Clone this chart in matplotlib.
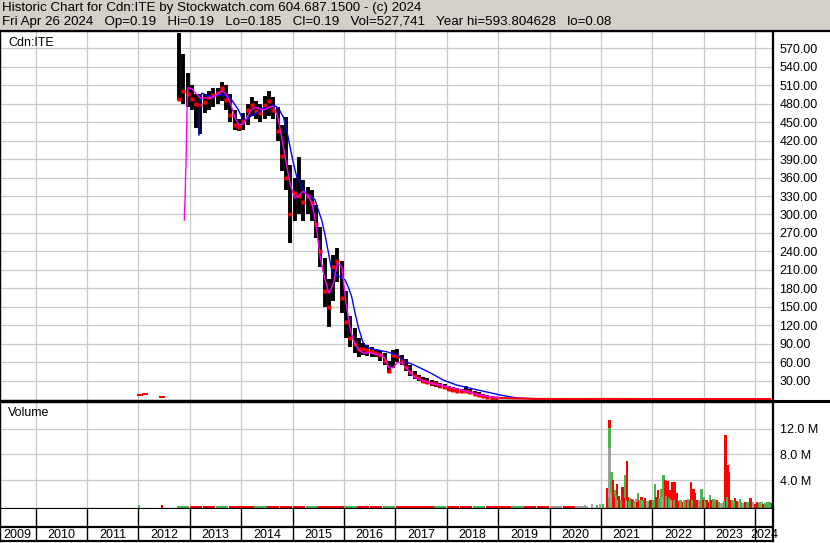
import matplotlib.pyplot as plt
import matplotlib.lines as mlines
import matplotlib.patches as mpatches

plt.rcParams['font.family'] = ['Liberation Sans', 'DejaVu Sans']

title_line = "Historic Chart for Cdn:ITE by Stockwatch.com 604.687.1500 - (c) 2024"
quote_line = ("Fri Apr 26 2024   Op=0.19   Hi=0.19   Lo=0.185   Cl=0.19   "
              "Vol=527,741   Year hi=593.804628   lo=0.08")
symbol = "Cdn:ITE"

# monthly price bars (high / low / close)
months = ["2012-10", "2012-11", "2012-12",
          "2013-01", "2013-02", "2013-03", "2013-04", "2013-05", "2013-06",
          "2013-07", "2013-08", "2013-09", "2013-10", "2013-11", "2013-12",
          "2014-01", "2014-02", "2014-03", "2014-04", "2014-05", "2014-06",
          "2014-07", "2014-08", "2014-09", "2014-10", "2014-11", "2014-12",
          "2015-01", "2015-02", "2015-03", "2015-04", "2015-05", "2015-06",
          "2015-07", "2015-08", "2015-09", "2015-10", "2015-11", "2015-12",
          "2016-01", "2016-02", "2016-03", "2016-04", "2016-05", "2016-06",
          "2016-07", "2016-08", "2016-09", "2016-10", "2016-11", "2016-12",
          "2017-01", "2017-02", "2017-03", "2017-04", "2017-05", "2017-06",
          "2017-07", "2017-08", "2017-09", "2017-10", "2017-11", "2017-12",
          "2018-01", "2018-02", "2018-03", "2018-04", "2018-05", "2018-06",
          "2018-07", "2018-08", "2018-09", "2018-10", "2018-11", "2018-12"]
highs = [595, 560, 530,
         510, 495, 495, 495, 500, 505, 505, 515, 510, 495, 470, 455,
         465, 480, 490, 485, 480, 492, 500, 490, 475, 445, 458, 380,
         360, 393, 356, 345, 340, 315, 280, 230, 195, 235, 246, 225,
         175, 135, 115, 100, 92, 88, 85, 82, 80, 75, 62, 80,
         82, 72, 65, 55, 46, 40, 36, 34, 31, 29, 27, 25,
         22, 20, 18, 16, 22, 16, 13, 11, 9, 7, 5, 4]
lows = [486, 480, 475,
        470, 440, 430, 465, 470, 475, 480, 485, 470, 450, 438, 436,
        438, 445, 460, 455, 450, 455, 460, 455, 420, 370, 340, 254,
        290, 300, 290, 300, 290, 262, 215, 150, 117, 160, 190, 140,
        100, 85, 75, 68, 72, 70, 68, 68, 62, 55, 42, 50,
        60, 55, 45, 38, 33, 30, 27, 24, 22, 20, 18, 16,
        14, 12, 11, 10, 11, 9, 7, 5, 3, 2, 1.5, 1]
closes = [488, 500, 495,
          488, 480, 478, 482, 490, 494, 498, 505, 486, 462, 445, 442,
          452, 470, 478, 468, 465, 478, 485, 470, 435, 395, 360, 300,
          335, 330, 320, 330, 318, 285, 240, 175, 150, 215, 225, 165,
          125, 100, 90, 82, 82, 80, 78, 75, 72, 62, 45, 72,
          70, 62, 52, 44, 38, 34, 30, 28, 26, 24, 22, 20,
          17, 15, 14, 13, 14, 11, 9, 7, 5, 3.5, 2.5, 2]

tail_months = ["2019-01", "2019-04", "2019-07", "2019-10", "2020-01", "2020-07",
               "2021-01", "2021-07", "2022-01", "2022-07", "2023-01", "2023-07",
               "2024-01", "2024-04"]
tail_closes = [1.8, 1.2, 0.8, 0.6, 0.45, 0.35, 0.5, 0.4, 0.3, 0.25, 0.22, 0.2,
               0.19, 0.19]

early_months = ["2012-01", "2012-02", "2012-06"]
early_prices = [7, 8, 3]

# short moving average (magenta), decimal years
ma_short_t = [2012.895, 2012.914, 2012.934, 2012.947, 2012.967,
              2013.042, 2013.125, 2013.208, 2013.292, 2013.375, 2013.458,
              2013.542, 2013.625, 2013.708, 2013.792, 2013.875, 2013.958,
              2014.042, 2014.125, 2014.208, 2014.292, 2014.375, 2014.458,
              2014.542, 2014.625, 2014.708, 2014.792, 2014.875, 2014.958,
              2015.042, 2015.125, 2015.208, 2015.292, 2015.375, 2015.458,
              2015.542, 2015.625, 2015.708, 2015.792, 2015.875, 2015.958,
              2016.042, 2016.125, 2016.208, 2016.292, 2016.375, 2016.458,
              2016.542, 2016.625, 2016.708, 2016.792, 2016.875, 2016.958,
              2017.042, 2017.125, 2017.208, 2017.292, 2017.375, 2017.458,
              2017.542, 2017.625, 2017.708, 2017.792, 2017.875, 2017.958,
              2018.042, 2018.125, 2018.208, 2018.292, 2018.375, 2018.458,
              2018.542, 2018.625, 2018.708, 2018.792, 2018.875, 2018.958,
              2019.25, 2019.75, 2020.5, 2021.5, 2022.5, 2023.5, 2024.3]
ma_short = [291, 340, 405, 470, 506,
            504, 496, 489, 489, 489, 491, 496, 501, 496, 481, 458, 445,
            447, 460, 471, 474, 471, 470, 474, 476, 460, 424, 385, 348,
            327, 330, 338, 332, 319, 283, 229, 197, 172, 187, 221, 215,
            156, 112, 91, 80, 75, 75, 75, 73, 72, 67, 51, 51,
            60, 59, 51, 43, 36, 33, 30, 28, 25.5, 24, 23, 21,
            20, 18, 16.5, 15, 13, 11, 9, 7.5, 6, 4.5, 3.5, 2.8,
            1.8, 0.8, 0.4, 0.3, 0.3, 0.25, 0.2]

# long moving average (blue), decimal years
ma_long_t = [2013.181, 2013.191, 2013.200, 2013.234, 2013.331, 2013.428,
             2013.525, 2013.654, 2013.751, 2013.817, 2013.881, 2013.946,
             2014.012, 2014.076, 2014.140, 2014.237, 2014.335, 2014.432,
             2014.529, 2014.626, 2014.724, 2014.821, 2014.887, 2014.951,
             2015.016, 2015.082, 2015.179, 2015.276, 2015.374, 2015.438,
             2015.502, 2015.568, 2015.632, 2015.696, 2015.763, 2015.827,
             2015.924, 2016.021, 2016.086, 2016.152, 2016.216, 2016.280,
             2016.346, 2016.377, 2016.475, 2016.638, 2016.833, 2017.027,
             2017.222, 2017.350, 2017.481, 2017.675, 2017.934, 2018.195,
             2018.518, 2018.778, 2019.037, 2019.362, 2019.815, 2021.0,
             2022.5, 2024.3]
ma_long = [429, 462, 486, 497, 494, 491,
           494, 494, 491, 486, 478, 470,
           458, 453, 457, 462, 466, 473,
           473, 478, 473, 458, 437, 410,
           384, 361, 345, 332, 328, 324,
           307, 291, 267, 239, 210, 202,
           199, 194, 182, 166, 140, 117,
           99, 91, 83, 80, 77, 72,
           60, 56, 51, 43, 31, 23,
           16.6, 11.7, 6.8, 2.0, 0.3, 0.3,
           0.3, 0.3]

# volume (shares), direction: 1 up, -1 down, 0 unchanged
vol_t = [2012.01, 2012.46,
         2020.69, 2020.83, 2020.92, 2020.98, 2021.04,
         2021.119, 2021.167, 2021.167, 2021.167, 2021.210, 2021.235, 2021.274,
         2021.313, 2021.372, 2021.424, 2021.469, 2021.508, 2021.527, 2021.566,
         2021.625, 2021.722, 2021.794, 2021.891, 2021.988, 2022.053, 2022.111,
         2022.169, 2022.214, 2022.247, 2022.292, 2022.344, 2022.397, 2022.442,
         2022.475, 2022.539, 2022.597, 2022.669, 2022.753, 2022.798, 2022.831,
         2022.895, 2022.961, 2023.006, 2023.058, 2023.123, 2023.187, 2023.253,
         2023.350, 2023.428, 2023.467, 2023.492, 2023.545, 2023.609, 2023.706,
         2023.770, 2023.837, 2023.914, 2023.998, 2024.062, 2024.128, 2024.193,
         2024.257, 2024.304]
vol = [0.25e6, 0.15e6,
       0.2e6, 0.3e6, 0.2e6, 0.4e6, 0.3e6,
       2.8e6, 13.3e6, 12.1e6, 9.0e6, 5.3e6, 4.0e6, 2.5e6,
       3.4e6, 1.0e6, 3.0e6, 4.8e6, 7.0e6, 1.5e6, 1.3e6,
       1.0e6, 2.0e6, 1.4e6, 0.85e6, 1.0e6, 3.4e6, 2.5e6,
       2.6e6, 4.8e6, 4.0e6, 3.9e6, 2.5e6, 3.8e6, 3.8e6,
       2.1e6, 1.0e6, 0.7e6, 1.0e6, 3.8e6, 2.6e6, 2.1e6,
       1.0e6, 2.6e6, 1.4e6, 1.0e6, 1.7e6, 1.1e6, 0.9e6,
       0.5e6, 11.0e6, 6.4e6, 5.3e6, 1.0e6, 1.3e6, 1.1e6,
       0.5e6, 0.7e6, 1.3e6, 0.4e6, 0.5e6, 0.7e6, 0.5e6,
       0.5e6, 0.5e6]
vol_dir = [1, -1,
           0, 0, 1, 0, 1,
           -1, -1, 1, 0, 1, -1, 1,
           -1, 1, -1, 1, -1, -1, 1,
           -1, 1, -1, 0, -1, 1, -1,
           1, 1, -1, -1, -1, -1, -1,
           -1, 1, -1, -1, -1, -1, -1,
           0, 1, 1, -1, 1, 1, -1,
           0, -1, -1, -1, 1, -1, 1,
           0, 1, -1, -1, 1, 0, 1,
           -1, -1]

# small bars filling the gaps after 2021
fill_t = [2021.150, 2021.190, 2021.250, 2021.290, 2021.335, 2021.350, 2021.395,
          2021.445, 2021.490, 2021.545, 2021.600, 2021.650, 2021.680, 2021.700,
          2021.750, 2021.770, 2021.820, 2021.850, 2021.930, 2021.960, 2022.020,
          2022.080, 2022.140, 2022.190, 2022.270, 2022.320, 2022.370, 2022.420,
          2022.500, 2022.560, 2022.620, 2022.640, 2022.700, 2022.730, 2022.780,
          2022.860, 2022.930, 2022.990, 2023.030, 2023.090, 2023.150, 2023.220,
          2023.300, 2023.390, 2023.450, 2023.510, 2023.580, 2023.650, 2023.680,
          2023.730, 2023.800, 2023.870, 2023.950, 2024.030, 2024.100, 2024.160,
          2024.230, 2024.280, 2024.330]
fill_vol = [1.2e6, 2.0e6, 1.5e6, 1.8e6, 1.0e6, 1.6e6, 0.8e6,
            1.2e6, 0.9e6, 0.8e6, 1.1e6, 0.8e6, 1.1e6, 0.7e6,
            1.0e6, 0.9e6, 0.9e6, 1.2e6, 0.8e6, 1.0e6, 0.9e6,
            1.5e6, 1.2e6, 1.5e6, 1.6e6, 1.2e6, 1.0e6, 1.0e6,
            0.8e6, 1.0e6, 0.9e6, 0.8e6, 1.1e6, 0.9e6, 1.0e6,
            1.0e6, 0.8e6, 0.9e6, 0.8e6, 0.6e6, 0.9e6, 0.9e6,
            0.6e6, 0.8e6, 1.5e6, 0.9e6, 0.8e6, 0.8e6, 0.7e6,
            0.7e6, 0.6e6, 0.6e6, 0.6e6, 0.6e6, 0.6e6, 0.4e6,
            0.6e6, 0.7e6, 0.5e6]
fill_dir = [1, 0, -1, 1, 0, -1, 1,
            -1, 0, 1, -1, 1, 0, -1,
            -1, 1, 1, -1, 1, -1, 1,
            -1, 1, 0, 1, 1, 0, 1,
            -1, 1, 0, 1, 1, -1, 1,
            -1, 1, -1, 1, -1, -1, 1,
            1, 1, 1, -1, 1, -1, 0,
            1, -1, 1, 0, -1, 1, -1,
            1, 1, -1]

# thin carpet of volume 2012-2020, quarterly
carpet_t = [2012.875, 2013.125, 2013.375, 2013.625, 2013.875, 2014.125, 2014.375,
            2014.625, 2014.875, 2015.125, 2015.375, 2015.625, 2015.875, 2016.125,
            2016.375, 2016.625, 2016.875, 2017.125, 2017.375, 2017.625, 2017.875,
            2018.125, 2018.375, 2018.625, 2018.875, 2019.125, 2019.375, 2019.625,
            2019.875, 2020.125, 2020.375, 2020.625]
carpet_vol = [0.06e6, 0.05e6, 0.05e6, 0.04e6, 0.05e6, 0.05e6, 0.04e6,
              0.05e6, 0.06e6, 0.05e6, 0.05e6, 0.05e6, 0.06e6, 0.05e6,
              0.04e6, 0.05e6, 0.05e6, 0.04e6, 0.05e6, 0.04e6, 0.05e6,
              0.05e6, 0.04e6, 0.05e6, 0.06e6, 0.04e6, 0.03e6, 0.04e6,
              0.03e6, 0.04e6, 0.05e6, 0.08e6]
carpet_dir = [1, -1, -1, 1, -1, -1, 1, -1, -1, -1, 1, -1, -1, 1, -1, -1,
              1, -1, -1, -1, 1, -1, -1, 1, -1, -1, 1, -1, -1, 0, -1, 0]

price_ticks = [30, 60, 90, 120, 150, 180, 210, 240, 270, 300,
               330, 360, 390, 420, 450, 480, 510, 540, 570]
vol_ticks = [4e6, 8e6, 12e6]
vol_labels = ["4.0 M", "8.0 M", "12.0 M"]
years = list(range(2009, 2025))


def month_to_year(m):
    y, mo = m.split('-')
    return int(y) + (int(mo) - 0.5) / 12


W, H = 830, 543
X0, X1 = 2009.309, 2024.348
dir_color = {1: '#4db34d', -1: '#ff0000', 0: '#a0a0a0'}
grid_color = '#c8c8c8'
fs = 9.0
fs_head = 9.6


def fy(y):
    return 1 - y / H


fig = plt.figure(figsize=(W / 100, H / 100), dpi=100)
fig.patch.set_facecolor('white')

# header
fig.patches.append(mpatches.Rectangle((0, fy(30)), 1, 30 / H, transform=fig.transFigure,
                                      facecolor='#d4d0c8', edgecolor='none', zorder=0))
fig.text(2 / W, fy(1.5), title_line, fontsize=fs_head, va='top', ha='left')
fig.text(2 / W, fy(16), quote_line, fontsize=fs_head, va='top', ha='left')

ax_p = fig.add_axes([0, fy(400), 773 / W, (400 - 31) / H])
ax_v = fig.add_axes([0, fy(509), 773 / W, (509 - 402) / H])
ax_d = fig.add_axes([0, fy(541), 773 / W, (541 - 509) / H])

boundaries = years[1:]

# price panel
t_bars = [month_to_year(m) for m in months]
ax_p.vlines(t_bars, lows, highs, color='black', lw=2.8, zorder=2)
ax_p.plot(t_bars, closes, 's', color='red', ms=2.2, mec='none', zorder=3)
ax_p.plot(ma_long_t, ma_long, color='#0000ff', lw=1.0, zorder=4)
ax_p.plot(ma_short_t, ma_short, color='#ff00ff', lw=1.0, zorder=5)
ax_p.plot([month_to_year(m) for m in tail_months], tail_closes, color='red', lw=1.4, zorder=6)
ax_p.plot([month_to_year(m) for m in early_months], early_prices, '_', color='red',
          ms=5, mew=1.5, zorder=3)

ax_p.set_xlim(X0, X1)
ax_p.set_ylim(-1.3, 598)
ax_p.set_xticks(boundaries)
ax_p.set_yticks(price_ticks)
ax_p.set_yticklabels([f"{v:.2f}" for v in price_ticks])
ax_p.grid(True, color=grid_color, lw=0.9)
ax_p.set_axisbelow(True)
ax_p.tick_params(axis='y', left=False, right=True, labelleft=False, labelright=True,
                 length=0, pad=4.5, labelsize=fs)
ax_p.tick_params(axis='x', length=0, labelbottom=False)
for s in ax_p.spines.values():
    s.set_color('black')
ax_p.spines['top'].set_linewidth(1.6)
ax_p.spines['right'].set_linewidth(1.6)
ax_p.spines['left'].set_linewidth(1.0)
ax_p.spines['bottom'].set_linewidth(1.0)
ax_p.text(8 / 773, 1 - 12 / 369, symbol, transform=ax_p.transAxes, fontsize=fs,
          va='center', ha='left')

# volume panel
vbase = -0.43e6
ax_v.bar(carpet_t, [v - vbase for v in carpet_vol], bottom=vbase, width=0.24,
         color=[dir_color[d] for d in carpet_dir], linewidth=0, zorder=2)
ax_v.bar(vol_t, [v - vbase for v in vol], bottom=vbase, width=0.05,
         color=[dir_color[d] for d in vol_dir], linewidth=0, zorder=2)
ax_v.bar(fill_t, [v - vbase for v in fill_vol], bottom=vbase, width=0.04,
         color=[dir_color[d] for d in fill_dir], linewidth=0, zorder=2)
ax_v.set_xlim(X0, X1)
ax_v.set_ylim(vbase, 16.1e6)
ax_v.set_xticks(boundaries)
ax_v.set_yticks(vol_ticks)
ax_v.set_yticklabels(vol_labels)
ax_v.grid(True, color=grid_color, lw=0.9)
ax_v.set_axisbelow(True)
ax_v.tick_params(axis='y', left=False, right=True, labelleft=False, labelright=True,
                 length=0, pad=5, labelsize=fs)
ax_v.tick_params(axis='x', length=0, labelbottom=False)
for s in ax_v.spines.values():
    s.set_color('black')
ax_v.spines['top'].set_linewidth(1.0)
ax_v.spines['right'].set_linewidth(1.6)
ax_v.spines['left'].set_linewidth(1.0)
ax_v.spines['bottom'].set_linewidth(1.6)
ax_v.text(8 / 773, 1 - 11 / 107, "Volume", transform=ax_v.transAxes, fontsize=fs,
          va='center', ha='left')

# date axis
ax_d.set_xlim(X0, X1)
ax_d.set_ylim(0, 32)
ax_d.set_xticks([])
ax_d.set_yticks([])
for b in boundaries:
    ax_d.axvline(b, color='black', lw=1.0)
ax_d.axhline(14, color='black', lw=1.6)
for y in years:
    c = (max(y, X0) + min(y + 1, X1)) / 2
    ax_d.text(c, 6.5, str(y), fontsize=fs, ha='center', va='center')
for s in ax_d.spines.values():
    s.set_color('black')
    s.set_linewidth(1.0)
ax_d.spines['right'].set_linewidth(1.6)
ax_d.spines['bottom'].set_linewidth(1.6)
ax_d.spines['top'].set_visible(False)

# full-width separators
fig.add_artist(mlines.Line2D([0, 1], [fy(31), fy(31)], color='black', lw=1.6))
fig.add_artist(mlines.Line2D([0, 1], [fy(401), fy(401)], color='black', lw=2.2))

fig.savefig('out.png', dpi=100)
